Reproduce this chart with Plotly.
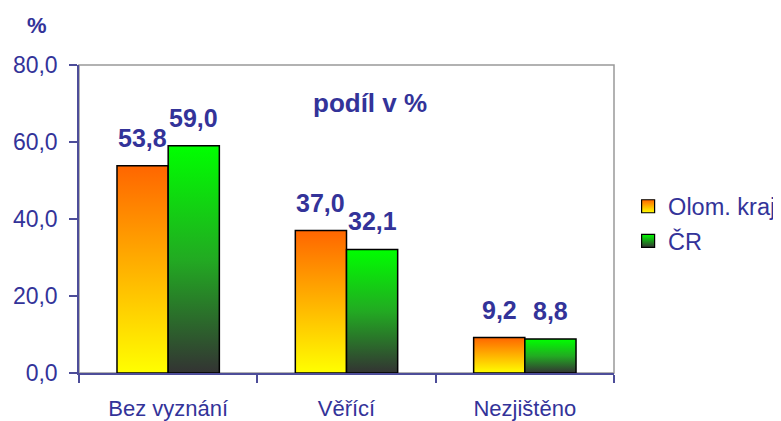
import plotly.graph_objects as go

categories = ["Bez vyznání", "Věřící", "Nezjištěno"]
olom_kraj = [53.8, 37.0, 9.2]
cr = [59.0, 32.1, 8.8]
series_names = ["Olom. kraj", "ČR"]
y_ticks = [0, 20, 40, 60, 80]

NAVY = "#333399"
FONT = "Liberation Sans, Arial, sans-serif"
BAR_W = 0.287

series = [
    (series_names[0], olom_kraj, -1, [[0, "#FFFF00"], [1, "#FF6600"]], "#FF6600", "#FFFF00"),
    (series_names[1], cr, 0, [[0, "#333333"], [0.5, "#22AA22"], [1, "#00FF00"]], "#00FF00", "#333333"),
]

fig = go.Figure()
annotations = []
for name, vals, side, cscale, ctop, cbot in series:
    for i, v in enumerate(vals):
        x0 = i + side * BAR_W
        x1 = x0 + BAR_W
        fig.add_trace(go.Scatter(
            x=[x0, x1, x1, x0, x0], y=[0, 0, v, v, 0],
            mode="lines", fill="toself",
            fillgradient=dict(type="vertical", colorscale=cscale),
            line=dict(color="black", width=1.5),
            name=name, legendgroup=name, showlegend=False,
            hoverinfo="skip",
        ))
        annotations.append(dict(
            x=(x0 + x1) / 2, y=v, xref="x", yref="y",
            text=f"{v:.1f}".replace(".", ","), showarrow=False,
            xanchor="center", yanchor="bottom", yshift=12,
            font=dict(family=FONT, size=25, color=NAVY, weight="bold"),
        ))
    # legend entry
    fig.add_trace(go.Scatter(
        x=[None], y=[None], mode="markers", name=name, legendgroup=name,
        marker=dict(symbol="square", size=13, color=ctop,
                    gradient=dict(type="vertical", color=cbot),
                    line=dict(color="black", width=1.2)),
    ))

annotations.append(dict(x=0.544, y=0.877, xref="paper", yref="paper", text="podíl v %",
                        xanchor="center", yanchor="middle", showarrow=False,
                        font=dict(family=FONT, size=26, color=NAVY, weight="bold")))
annotations.append(dict(x=-0.0785, y=1.127, xref="paper", yref="paper", text="%",
                        xanchor="center", yanchor="middle", showarrow=False,
                        font=dict(family=FONT, size=22, color=NAVY, weight="bold")))

# page has an 8px body margin; margins compensate so the plot box lands at 79..614 x 65..373
fig.update_layout(
    width=781, height=421,
    margin=dict(l=71, r=175, t=57, b=56),
    paper_bgcolor="white", plot_bgcolor="white",
    separators=",.",
    font=dict(family=FONT, color=NAVY),
    showlegend=True,
    legend=dict(xref="container", yref="container", x=0.794, y=0.487,
                xanchor="left", yanchor="middle",
                font=dict(family=FONT, size=23.5, color=NAVY),
                bgcolor="rgba(0,0,0,0)", tracegroupgap=1, itemwidth=30),
    annotations=annotations,
    shapes=[dict(type="rect", xref="paper", yref="paper", x0=0, y0=0, x1=1, y1=1,
                 line=dict(color="#999999", width=1.5), layer="below")],
    xaxis=dict(range=[-0.5, 2.5], tickmode="array", tickvals=[0, 1, 2], ticktext=categories,
               ticks="", showgrid=False, zeroline=False, showline=True, automargin=False,
               linecolor="#4D4D99", linewidth=1.5, ticklabelstandoff=15,
               tickfont=dict(family=FONT, size=22, color=NAVY),
               minor=dict(tickmode="array", tickvals=[-0.5, 0.5, 1.5, 2.5], ticks="outside",
                          ticklen=8, tickcolor="#4D4D99", tickwidth=1.5, showgrid=False),
               fixedrange=True),
    yaxis=dict(range=[0, 80], tickmode="array", tickvals=y_ticks, tickformat=".1f",
               ticks="outside", ticklen=8, tickcolor="#4D4D99", tickwidth=1.5,
               showgrid=False, zeroline=False, showline=True, ticklabelstandoff=7,
               automargin=False, linecolor="#4D4D99", linewidth=1.5,
               tickfont=dict(family=FONT, size=23, color=NAVY), fixedrange=True),
)

fig.write_html("out.html")
